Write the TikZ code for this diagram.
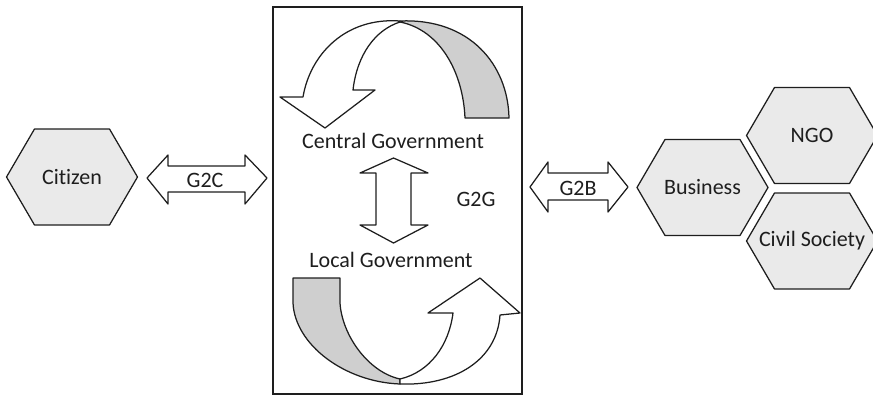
\documentclass[tikz,border=0pt]{standalone}
\usepackage{fontspec}
\setmainfont{Carlito}[Ligatures=NoCommon]
\usetikzlibrary{calc}

\definecolor{hexfill}{HTML}{EAEAEA}
\definecolor{bandfill}{HTML}{CFCFCF}
\definecolor{ink}{HTML}{1E1E1E}

\tikzset{
  outline/.style={draw=ink, line width=1.25pt, line join=round},
  hexshape/.style={outline, fill=hexfill},
  blockarrow/.style={outline, fill=white},
  band/.style={outline, fill=bandfill},
  frame/.style={draw=ink, line width=1.3pt},
  label/.style={font=\fontsize{22}{24}\selectfont, text=ink, inner sep=0pt},
}

% hexagon cell: name, centre, text
\newcommand{\hexcell}[3]{%
  \draw[hexshape] ($(#2)+(-65.5,0)$) -- ++(28,-48) -- ++(75,0) -- ++(28,48)
     -- ++(-28,48) -- ++(-75,0) -- cycle;
  \node[label] (#1) at (#2) {#3};
}

\begin{document}
\begin{tikzpicture}[x=1pt,y=-1pt]
\useasboundingbox (0,0) rectangle (873,396);

% outer frame around the government levels
\node[frame, minimum width=249pt, minimum height=387pt, inner sep=0pt] (gov) at (397.5,200.5) {};

% hexagon cells
\hexcell{citizen}{72,177}{Citizen}
\hexcell{business}{702.5,187.5}{Business}
\hexcell{ngo}{812,135.5}{NGO}
\hexcell{civil}{812,241}{Civil Society}

% G2C block double arrow
\draw[blockarrow] (147,178) -- (168,155) -- (168,166) -- (245,166) -- (245,155)
   -- (267,178) -- (245,204) -- (245,192) -- (168,192) -- (168,204) -- cycle;
\node[label] (g2c) at (205,180) {G2C};

% G2B block double arrow
\draw[blockarrow] (530,187) -- (548,162) -- (548,173) -- (608,173) -- (608,162)
   -- (628,187) -- (608,212) -- (608,200) -- (548,200) -- (548,212) -- cycle;
\node[label] (g2b) at (578,188) {G2B};

% vertical double arrow between the two levels
\draw[blockarrow] (393.5,158) -- (428,173) -- (411,173) -- (411,225) -- (428,225)
   -- (393.5,243) -- (360,225) -- (376,225) -- (376,173) -- (360,173) -- cycle;
\node[label] (g2g) at (476,199) {G2G};

\node[label] (central) at (393,141) {Central Government};
\node[label] (local) at (391,260) {Local Government};

% upper circular arrow: shaded back band and white front with head
\draw[band] (400,21) .. controls (470,18) and (508,65) .. (509,118)
   -- (465,118) .. controls (463,72) and (440,30) .. (400,22) -- cycle;
\draw[blockarrow] (400,21) .. controls (345,17) and (310,55) .. (303,97)
   -- (280,97) -- (325,128) -- (375,90) -- (353,90)
   .. controls (357,55) and (375,30) .. (400,22) -- cycle;

% lower circular arrow: shaded back band and white front with head
\draw[band] (293,278) -- (340,278) -- (340,303)
   .. controls (342,335) and (368,372) .. (400,379)
   -- (400,384) .. controls (345,382) and (295,345) .. (293,303) -- cycle;
\draw[blockarrow] (400,384) .. controls (455,386) and (497,360) .. (500,315)
   -- (520,313) -- (480,278) -- (428,313) -- (453,313)
   .. controls (449,345) and (430,372) .. (400,379) -- cycle;
\end{tikzpicture}
\end{document}
